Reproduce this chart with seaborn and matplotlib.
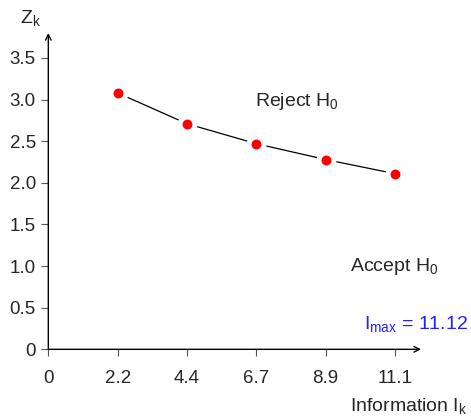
import numpy as np
import pandas as pd
import seaborn as sns
import matplotlib.pyplot as plt

# data
info = [2.224, 4.448, 6.672, 8.896, 11.12]
z_bound = [3.08, 2.71, 2.47, 2.28, 2.11]
x_ticks = [0, 2.224, 4.448, 6.672, 8.896, 11.12]
x_labels = ["0", "2.2", "4.4", "6.7", "8.9", "11.1"]
y_ticks = [0, 0.5, 1.0, 1.5, 2.0, 2.5, 3.0, 3.5]
y_labels = ["0", "0.5", "1.0", "1.5", "2.0", "2.5", "3.0", "3.5"]

df = pd.DataFrame({"info": info, "z": z_bound})

sns.set_style("ticks")
plt.rcParams["font.family"] = ["Liberation Sans", "DejaVu Sans"]
plt.rcParams["mathtext.fontset"] = "custom"
plt.rcParams["mathtext.rm"] = "Liberation Sans"
plt.rcParams["mathtext.it"] = "Liberation Sans"

fig = plt.figure(figsize=(4.71, 4.16), dpi=100)
ax = fig.add_axes([0.1026, 0.1603, 0.7914, 0.7604])

sns.lineplot(data=df, x="info", y="z", ax=ax, color="black", lw=0.9,
             marker="o", markersize=10.8, markerfacecolor="red",
             markeredgecolor="white", markeredgewidth=3.6)

ax.set_xlim(0, 11.96)
ax.set_ylim(0, 3.8)
ax.set_xticks(x_ticks)
ax.set_xticklabels(x_labels)
ax.set_yticks(y_ticks)
ax.set_yticklabels(y_labels)
ax.tick_params(axis="both", labelsize=13.5, length=5, width=0.8, color="#555555")
ax.tick_params(axis="x", pad=10)
ax.tick_params(axis="y", pad=4)
ax.set_xlabel("")
ax.set_ylabel("")

sns.despine(ax=ax, top=True, right=True)
ax.spines["left"].set_visible(False)
ax.spines["bottom"].set_visible(False)
ax.annotate("", xy=(1, 0), xytext=(0, 0), xycoords="axes fraction",
            arrowprops=dict(arrowstyle="->", lw=1, color="black",
                            shrinkA=0, shrinkB=0))
ax.annotate("", xy=(0, 1), xytext=(0, 0), xycoords="axes fraction",
            arrowprops=dict(arrowstyle="->", lw=1, color="black",
                            shrinkA=0, shrinkB=0))

ax.text(7.98, 2.98, r"Reject H$_0$", fontsize=14, ha="center", va="center")
ax.text(11.09, 0.99, r"Accept H$_0$", fontsize=14, ha="center", va="center")
ax.text(13.47, 0.30, r"I$_{\mathrm{max}}$ = 11.12", fontsize=14, ha="right",
        va="center", color="#2020ff")

fig.text(30 / 471, 1 - 18 / 416, r"Z$_\mathrm{k}$", fontsize=14, ha="center", va="center")
fig.text(467 / 471, 1 - 406 / 416, r"Information I$_\mathrm{k}$", fontsize=14,
         ha="right", va="center")

fig.savefig("out.png", dpi=100)
